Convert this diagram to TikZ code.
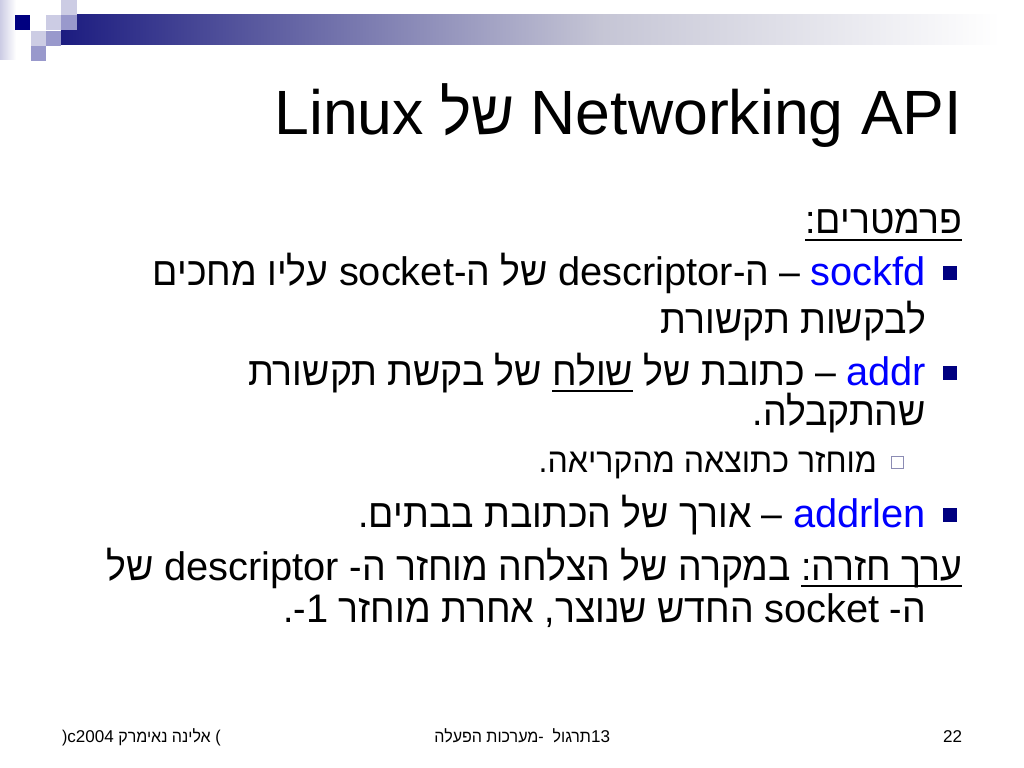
\documentclass[tikz,border=0pt]{standalone}
\usepackage{fontspec}
\setmainfont{Liberation Sans}
\newfontfamily\heb[Script=Hebrew, FakeStretch=0.94]{Liberation Sans}
\newfontfamily\latf{Liberation Sans}
\newcommand\lt[1]{\beginL{\latf #1}\endL}
\TeXXeTstate=1
\usetikzlibrary{calc}
\definecolor{navy}{HTML}{000080}
\definecolor{txtblue}{HTML}{0000FF}
\definecolor{sqlight}{HTML}{CCCCE4}
\definecolor{sqmid}{HTML}{9999CC}
\definecolor{barA}{HTML}{1C1C80}
\definecolor{barB}{HTML}{C5C5D5}
\definecolor{hollow}{HTML}{8C8CB4}
\begin{document}
\begin{tikzpicture}[x=0.703125pt,y=-0.703125pt,
  txt/.style={inner sep=0pt, outer sep=0pt, anchor=base east},
  titlef/.style={txt, font=\heb\fontsize{44}{53}\selectfont},
  bodyf/.style={txt, font=\heb\fontsize{28}{34}\selectfont},
  subf/.style={txt, font=\heb\fontsize{24}{29}\selectfont},
  footf/.style={txt, font=\heb\fontsize{12}{14}\selectfont},
  kw/.style={txt, font=\latf\fontsize{28}{34}\selectfont, text=txtblue},
  ul/.style={line width=1.4pt, black},
  bulletsq/.style={fill=navy, draw=none, minimum size=10.5pt, inner sep=0pt},
  hollowsq/.style={draw=hollow, line width=0.6pt, fill=white, minimum size=8.5pt, inner sep=0pt}]
\useasboundingbox (0,0) rectangle (1024,768);
\fill[white] (0,0) rectangle (1024,768);
% decoration
\shade[left color=sqlight, right color=white] (0,0) rectangle (16,60);
\shade[left color=barA, right color=barB] (61,15) rectangle (600,45);
\shade[left color=barB, right color=white] (599,15) rectangle (1000,45);
\fill[navy] (15,15) rectangle (30,30);
\fill[sqlight] (46,15) rectangle (61,30);
\fill[sqmid] (61,15) rectangle (77,30);
\fill[sqlight] (61,0) rectangle (77,15);
\fill[sqlight] (31,31) rectangle (46,46);
\fill[sqmid] (46,31) rectangle (61,46);
\fill[sqmid] (31,46) rectangle (46,61);
% title
\node[titlef] (title) at (962,135) {\beginR\lt{Networking API}\ של \lt{Linux}\endR};
% parameters header
\node[bodyf] (params) at (962,234) {\beginR פרמטרים:\endR};
\draw[ul] ($(params.base west)+(0,6)$) -- ($(params.base east)+(0,6)$);
% sockfd
\node[bulletsq] (b1) at (950,273) {};
\node[kw] (k1) at (926,285) {sockfd};
\node[bodyf] (r1) at (k1.base west) {\beginR\ – ה-\lt{descriptor}\ של ה-\lt{socket}\ עליו מחכים\endR};
\node[bodyf] (r1b) at (926,333) {\beginR לבקשות תקשורת\endR};
% addr
\node[bulletsq] (b2) at (950,373) {};
\node[kw] (k2) at (926,385) {addr};
\node[bodyf] (r2a) at (k2.base west) {\beginR\ – כתובת של\ \endR};
\node[bodyf] (r2u) at (r2a.base west) {\beginR שולח\endR};
\draw[ul] ($(r2u.base west)+(0,6)$) -- ($(r2u.base east)+(0,6)$);
\node[bodyf] (r2b) at (r2u.base west) {\beginR\ של בקשת תקשורת\endR};
\node[bodyf] (r2c) at (926,425) {\beginR שהתקבלה.\endR};
% sub bullet
\node[hollowsq] (b3) at (897,462) {};
\node[subf] (r3) at (877,472) {\beginR מוחזר כתוצאה מהקריאה.\endR};
% addrlen
\node[bulletsq] (b4) at (950,515) {};
\node[kw] (k4) at (926,527) {addrlen};
\node[bodyf] (r4) at (k4.base west) {\beginR\ – אורך של הכתובת בבתים.\endR};
% return value
\node[bodyf] (ret) at (962,580) {\beginR ערך חזרה:\endR};
\draw[ul] ($(ret.base west)+(0,6)$) -- ($(ret.base east)+(0,6)$);
\node[bodyf] (r5) at (ret.base west) {\beginR\ במקרה של הצלחה מוחזר ה- \lt{descriptor}\ של\endR};
\node[bodyf] (r5b) at (926,622) {\beginR ה- \lt{socket}\ החדש שנוצר, אחרת מוחזר \lt{1}-.\endR};
% footer
\node[footf, anchor=base west] (f1) at (62,742) {\beginR) אלינה נאימרק \lt{c2004}(\endR};
\node[footf] (f2) at (610,742) {\beginR\lt{13}תרגול\ \ -מערכות הפעלה\endR};
\node[footf] (f3) at (962,742) {\latf 22};
\end{tikzpicture}
\end{document}
